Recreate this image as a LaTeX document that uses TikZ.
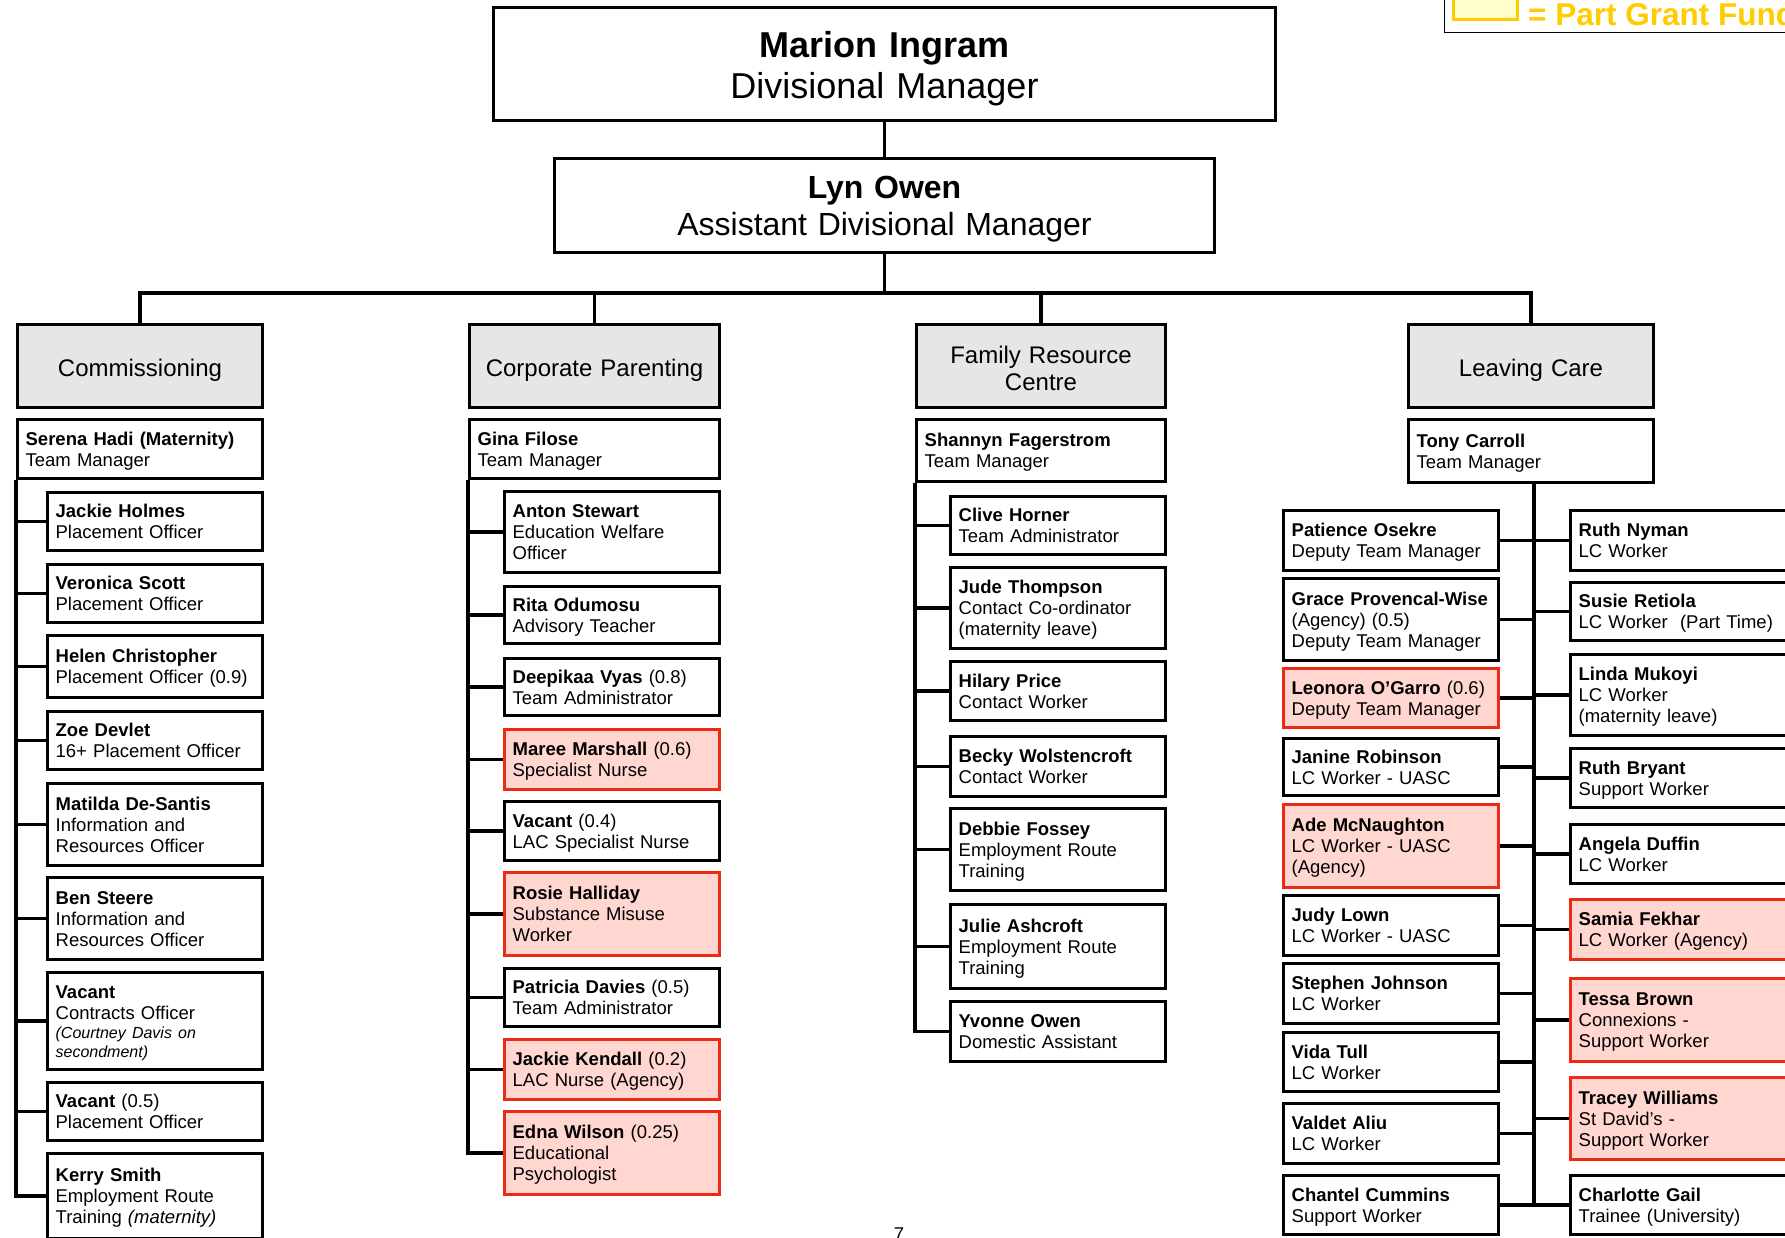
\documentclass[tikz,border=0pt]{standalone}
\usepackage{fontspec}
\setmainfont{Liberation Sans}
\definecolor{deptgray}{RGB}{230,230,230}
\definecolor{pinkfill}{RGB}{255,214,208}
\definecolor{redline}{RGB}{238,42,20}
\definecolor{gold}{RGB}{255,204,0}
\definecolor{paleyellow}{RGB}{255,255,204}
\tikzset{
  staffbox/.style={draw=black, line width=3.3pt, fill=white, inner xsep=8pt, inner ysep=0pt, align=left, font=\fontsize{18.5pt}{21pt}\selectfont},
  grantbox/.style={staffbox, draw=redline, fill=pinkfill},
  deptbox/.style={draw=black, line width=3.3pt, fill=deptgray, inner xsep=4pt, inner ysep=0pt, align=center, font=\fontsize{24pt}{27pt}\selectfont},
  headbox/.style={draw=black, line width=3.3pt, fill=white, inner sep=0pt, align=center},
  conn/.style={draw=black, line width=3.3pt},
}
\newcommand{\staffnode}[7]{%
  \pgfmathsetmacro\bxw{#5-#3-3.3}%
  \pgfmathsetmacro\bxh{#6-#4-3.3}%
  \pgfmathsetmacro\bxt{#5-#3-3.3-16}%
  \node[#2, minimum width=\bxw pt, minimum height=\bxh pt, text width=\bxt pt] (#1) at ({(#3+#5)/2},{(#4+#6)/2}) {\rule{0pt}{17pt}#7\rule[-4pt]{0pt}{4pt}};}
\newcommand{\deptnode}[6]{%
  \pgfmathsetmacro\bxw{#4-#2-3.3}%
  \pgfmathsetmacro\bxh{#5-#3-3.3}%
  \pgfmathsetmacro\bxt{#4-#2-3.3-8}%
  \node[deptbox, minimum width=\bxw pt, minimum height=\bxh pt, text width=\bxt pt] (#1) at ({(#2+#4)/2},{(#3+#5)/2}) {\rule{0pt}{26pt}#6\rule[-5pt]{0pt}{5pt}};}
\begin{document}
\begin{tikzpicture}[x=1pt,y=-1pt]
\useasboundingbox (0,0) rectangle (1785,1237);
\fill[white] (0,0) rectangle (1785,1237);
\clip (0,0) rectangle (1785,1237);

% legend
\draw[line width=1.6pt] (1444.3,-20) rectangle (1900,32.3);
\node[draw=gold, fill=paleyellow, line width=2.7pt, minimum width=64.3pt, minimum height=30.3pt, inner sep=0pt] (swatch) at (1485.5,4.5) {};
\node[anchor=base west, inner sep=0pt, text=gold, font=\fontsize{31.5pt}{36pt}\selectfont\bfseries] (legendtext) at (1528,25) {= Part Grant Funded};

% heads
\node[headbox, minimum width=781.7pt, minimum height=112.7pt, text width=760pt, font=\fontsize{36pt}{41pt}\selectfont] (marion) at (884.5,64) {\rule{0pt}{35pt}\textbf{Marion Ingram}\\Divisional Manager\rule[-8pt]{0pt}{8pt}};
\node[headbox, minimum width=659.7pt, minimum height=93.7pt, text width=640pt, font=\fontsize{32pt}{37pt}\selectfont] (lyn) at (884.5,205.5) {\rule{0pt}{29pt}\textbf{Lyn Owen}\\Assistant Divisional Manager\rule[-7pt]{0pt}{7pt}};

% departments
\deptnode{comm}{16}{323}{264}{409}{Commissioning}
\deptnode{corp}{468}{323}{721}{409}{Corporate Parenting}
\deptnode{frc}{915}{323}{1167}{409}{Family Resource\\Centre}
\deptnode{lc}{1407}{323}{1655}{409}{Leaving Care}

% Commissioning
\staffnode{serena}{staffbox}{16}{418}{264}{480}{\textbf{Serena Hadi (Maternity)}\\Team Manager}
\staffnode{jholmes}{staffbox}{46}{491}{264}{552}{\textbf{Jackie Holmes}\\Placement Officer}
\staffnode{vscott}{staffbox}{46}{563}{264}{624}{\textbf{Veronica Scott}\\Placement Officer}
\staffnode{hchris}{staffbox}{46}{634}{264}{699}{\textbf{Helen Christopher}\\Placement Officer (0.9)}
\staffnode{zoe}{staffbox}{46}{710}{264}{771}{\textbf{Zoe Devlet}\\16+ Placement Officer}
\staffnode{matilda}{staffbox}{46}{782}{264}{867}{\textbf{Matilda De-Santis}\\Information and\\Resources Officer}
\staffnode{ben}{staffbox}{46}{876}{264}{961}{\textbf{Ben Steere}\\Information and\\Resources Officer}
\staffnode{vacantco}{staffbox}{46}{971}{264}{1071}{\textbf{Vacant}\\Contracts Officer\\[-2pt]{\fontsize{16pt}{19pt}\selectfont\itshape (Courtney Davis on}\\[-2pt]{\fontsize{16pt}{19pt}\selectfont\itshape secondment)}}
\staffnode{vacantpo}{staffbox}{46}{1081}{264}{1142}{\textbf{Vacant} (0.5)\\Placement Officer}
\staffnode{kerry}{staffbox}{46}{1152}{264}{1240}{\textbf{Kerry Smith}\\Employment Route\\Training \textit{(maternity)}}

% Corporate Parenting
\staffnode{gina}{staffbox}{468}{418}{721}{480}{\textbf{Gina Filose}\\Team Manager}
\staffnode{anton}{staffbox}{503}{490}{721}{574}{\textbf{Anton Stewart}\\Education Welfare\\Officer}
\staffnode{rita}{staffbox}{503}{585}{721}{645}{\textbf{Rita Odumosu}\\Advisory Teacher}
\staffnode{deepikaa}{staffbox}{503}{657}{721}{717}{\textbf{Deepikaa Vyas} (0.8)\\Team Administrator}
\staffnode{maree}{grantbox}{503}{728}{721}{791}{\textbf{Maree Marshall} (0.6)\\Specialist Nurse}
\staffnode{vacantlac}{staffbox}{503}{800}{721}{862}{\textbf{Vacant} (0.4)\\LAC Specialist Nurse}
\staffnode{rosie}{grantbox}{503}{871}{721}{957}{\textbf{Rosie Halliday}\\Substance Misuse\\Worker}
\staffnode{patricia}{staffbox}{503}{967}{721}{1028}{\textbf{Patricia Davies} (0.5)\\Team Administrator}
\staffnode{jkendall}{grantbox}{503}{1038}{721}{1101}{\textbf{Jackie Kendall} (0.2)\\LAC Nurse (Agency)}
\staffnode{edna}{grantbox}{503}{1110}{721}{1196}{\textbf{Edna Wilson} (0.25)\\Educational\\Psychologist}

% Family Resource Centre
\staffnode{shannyn}{staffbox}{915}{418}{1167}{483}{\textbf{Shannyn Fagerstrom}\\Team Manager}
\staffnode{clive}{staffbox}{949}{495}{1167}{556}{\textbf{Clive Horner}\\Team Administrator}
\staffnode{jude}{staffbox}{949}{566}{1167}{650}{\textbf{Jude Thompson}\\Contact Co-ordinator\\(maternity leave)}
\staffnode{hilary}{staffbox}{949}{660}{1167}{722}{\textbf{Hilary Price}\\Contact Worker}
\staffnode{becky}{staffbox}{949}{735}{1167}{798}{\textbf{Becky Wolstencroft}\\Contact Worker}
\staffnode{debbie}{staffbox}{949}{807}{1167}{892}{\textbf{Debbie Fossey}\\Employment Route\\Training}
\staffnode{julie}{staffbox}{949}{903}{1167}{990}{\textbf{Julie Ashcroft}\\Employment Route\\Training}
\staffnode{yvonne}{staffbox}{949}{1000}{1167}{1063}{\textbf{Yvonne Owen}\\Domestic Assistant}

% Leaving Care
\staffnode{tony}{staffbox}{1407}{418}{1655}{484}{\textbf{Tony Carroll}\\Team Manager}
\staffnode{patience}{staffbox}{1282}{509}{1500}{572}{\textbf{Patience Osekre}\\Deputy Team Manager}
\staffnode{grace}{staffbox}{1282}{577}{1500}{662}{\mbox{\textbf{Grace Provencal-Wise}}\\(Agency) (0.5)\\Deputy Team Manager}
\staffnode{leonora}{grantbox}{1282}{667}{1500}{729}{\textbf{Leonora O’Garro} (0.6)\\Deputy Team Manager}
\staffnode{janine}{staffbox}{1282}{737}{1500}{797}{\textbf{Janine Robinson}\\LC Worker - UASC}
\staffnode{ade}{grantbox}{1282}{803}{1500}{889}{\textbf{Ade McNaughton}\\LC Worker - UASC\\(Agency)}
\staffnode{judy}{staffbox}{1282}{894}{1500}{957}{\textbf{Judy Lown}\\LC Worker - UASC}
\staffnode{stephen}{staffbox}{1282}{962}{1500}{1025}{\textbf{Stephen Johnson}\\LC Worker}
\staffnode{vida}{staffbox}{1282}{1031}{1500}{1093}{\textbf{Vida Tull}\\LC Worker}
\staffnode{valdet}{staffbox}{1282}{1102}{1500}{1165}{\textbf{Valdet Aliu}\\LC Worker}
\staffnode{chantel}{staffbox}{1282}{1174}{1500}{1236}{\textbf{Chantel Cummins}\\Support Worker}

\staffnode{ruthn}{staffbox}{1569}{509}{1800}{572}{\textbf{Ruth Nyman}\\LC Worker}
\staffnode{susie}{staffbox}{1569}{581}{1800}{642}{\textbf{Susie Retiola}\\LC Worker\ \ (Part Time)}
\staffnode{linda}{staffbox}{1569}{653}{1800}{737}{\textbf{Linda Mukoyi}\\LC Worker\\(maternity leave)}
\staffnode{ruthb}{staffbox}{1569}{747}{1800}{809}{\textbf{Ruth Bryant}\\Support Worker}
\staffnode{angela}{staffbox}{1569}{823}{1800}{885}{\textbf{Angela Duffin}\\LC Worker}
\staffnode{samia}{grantbox}{1569}{898}{1800}{961}{\textbf{Samia Fekhar}\\LC Worker (Agency)}
\staffnode{tessa}{grantbox}{1569}{977}{1800}{1063}{\textbf{Tessa Brown}\\Connexions -\\Support Worker}
\staffnode{tracey}{grantbox}{1569}{1076}{1800}{1161}{\textbf{Tracey Williams}\\St David’s -\\Support Worker}
\staffnode{charlotte}{staffbox}{1569}{1174}{1800}{1236}{\textbf{Charlotte Gail}\\Trainee (University)}

% page number
\node[anchor=base, inner sep=0pt, font=\fontsize{18.5pt}{21pt}\selectfont] (pagenum) at (899,1240) {7};

% connectors: top
\coordinate (busy) at (0,293);
\draw[conn] (marion.south) -- (lyn.north);
\draw[conn] (lyn.south) -- (lyn.south |- busy);
\draw[conn] (comm.north) -- (comm.north |- busy) -- (lc.north |- busy) -- (lc.north);
\draw[conn] (corp.north |- busy) -- (corp.north);
\draw[conn] (frc.north |- busy) -- (frc.north);

% Commissioning
\draw[conn] (serena.south west) -- (serena.south west |- kerry.west) -- (kerry.west);
\foreach \nm in {jholmes,vscott,hchris,zoe,matilda,ben,vacantco,vacantpo}
  \draw[conn] (\nm.west) -- (\nm.west -| serena.south west);

% Corporate Parenting
\draw[conn] (gina.south west) -- (gina.south west |- edna.west) -- (edna.west);
\foreach \nm in {anton,rita,deepikaa,maree,vacantlac,rosie,patricia,jkendall}
  \draw[conn] (\nm.west) -- (\nm.west -| gina.south west);

% Family Resource Centre
\draw[conn] (shannyn.south west) -- (shannyn.south west |- yvonne.west) -- (yvonne.west);
\foreach \nm in {clive,jude,hilary,becky,debbie,julie}
  \draw[conn] (\nm.west) -- (\nm.west -| shannyn.south west);

% Leaving Care
\coordinate (lcspine) at (1534,0);
\draw[conn] (tony.south -| lcspine) -- (chantel.east -| lcspine);
\foreach \nm in {patience,grace,leonora,janine,ade,judy,stephen,vida,valdet,chantel}
  \draw[conn] (\nm.east) -- (\nm.east -| lcspine);
\foreach \nm in {ruthn,susie,linda,ruthb,angela,samia,tessa,tracey,charlotte}
  \draw[conn] (\nm.west) -- (\nm.west -| lcspine);
\end{tikzpicture}
\end{document}
